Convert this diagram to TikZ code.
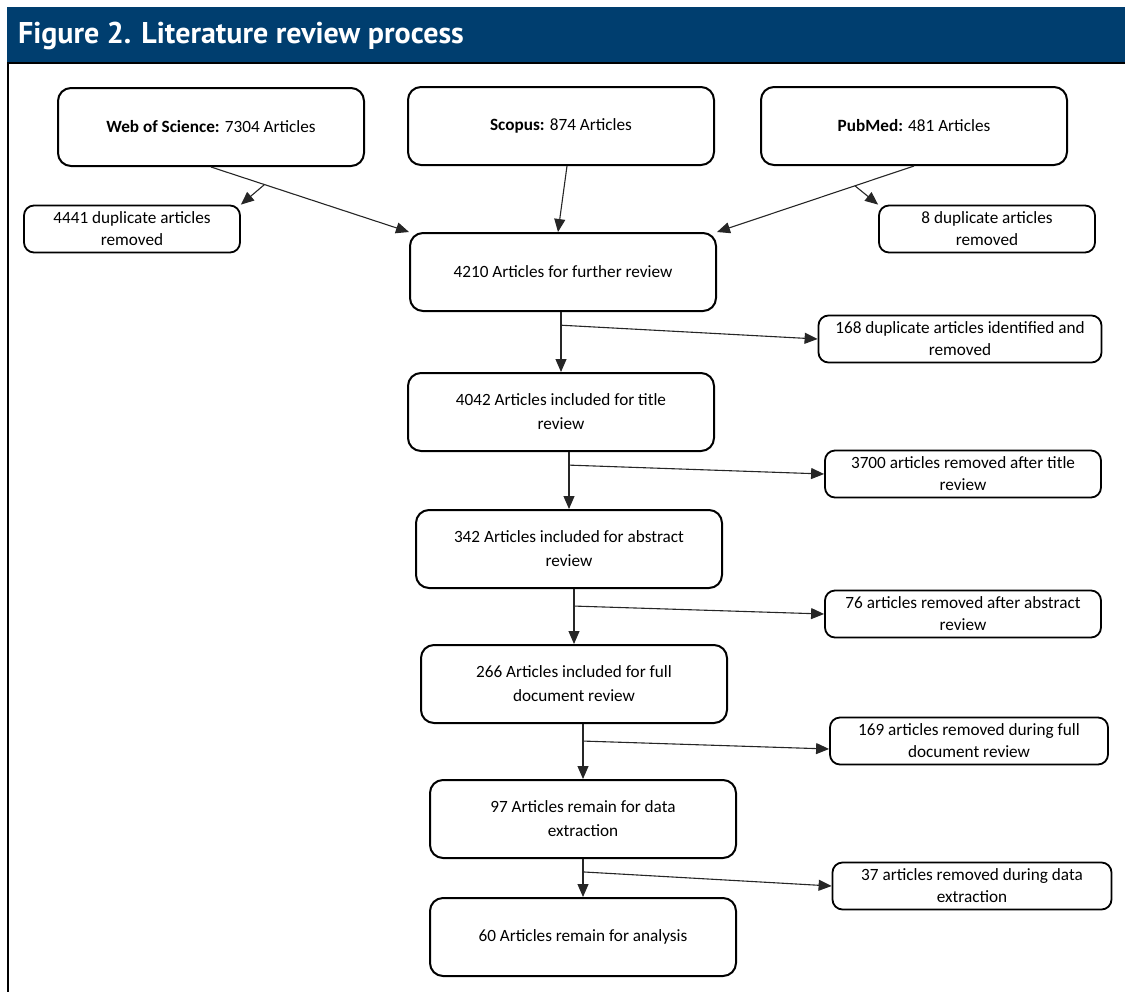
\documentclass[tikz,border=0pt]{standalone}
\usepackage{fontspec}
\setmainfont{Carlito}
\newfontfamily\titlefont{PT Sans}
\usetikzlibrary{calc}
\usetikzlibrary{arrows.meta}
\definecolor{barblue}{RGB}{0,62,111}

\begin{document}
\begin{tikzpicture}[x=0.5pt, y=-0.5pt,
        stagebox/.style={draw, line width=1pt, rounded corners=6.5pt, align=center,
            minimum width=153pt, minimum height=39pt, inner sep=2pt,
            font=\fontsize{8.6pt}{12pt}\selectfont},
        dropbox/.style={draw, line width=0.9pt, rounded corners=5pt, align=center,
            minimum height=23.5pt, inner sep=1pt,
            font=\fontsize{8.6pt}{11pt}\selectfont},
        flow/.style={line width=0.55pt, draw=black!85, -{Triangle[length=6.5pt,width=5.5pt]}}]
        \useasboundingbox (0,0) rectangle (1125,992);
        \coordinate (origin) at (0, 0);

        % title bar and frame
        \fill [barblue] ($(origin) + (7,7)$) rectangle ($(origin) + (1125,63)$);
        \draw [line width=1.2pt] ($(origin) + (7,63)$) -- +(1118,0);
        \draw [line width=1.2pt] ($(origin) + (8,63)$) -- +(0,929);
        \node (figtitle) [anchor=west, text=white, font=\titlefont\bfseries\fontsize{15pt}{18pt}\selectfont]
            at ($(origin) + (11,36)$) {Figure 2. Literature review process};

        % databases
        \node (wos) [stagebox] at ($(origin) + (211,127)$) {\textbf{Web of Science:} 7304 Articles};
        \node (scopus) [stagebox] at ($(origin) + (561,126)$) {\textbf{Scopus:} 874 Articles};
        \node (pubmed) [stagebox] at ($(origin) + (914,126)$) {\textbf{PubMed:} 481 Articles};

        \node (dupwos) [dropbox, minimum width=108pt] at ($(origin) + (132,229)$) {4441 duplicate articles\\removed};
        \node (duppub) [dropbox, minimum width=108pt] at ($(origin) + (987,229)$) {8 duplicate articles\\removed};

        % review stages
        \node (further) [stagebox] at ($(origin) + (563,272)$) {4210 Articles for further review};
        \node (titlerev) [stagebox] at ($(origin) + (561,412)$) {4042 Articles included for title\\review};
        \node (abstractrev) [stagebox] at ($(origin) + (569,549)$) {342 Articles included for abstract\\review};
        \node (fullrev) [stagebox] at ($(origin) + (574,684)$) {266 Articles included for full\\document review};
        \node (extraction) [stagebox] at ($(origin) + (583,819)$) {97 Articles remain for data\\extraction};
        \node (analysis) [stagebox] at ($(origin) + (583,937)$) {60 Articles remain for analysis};

        % removals
        \node (dupid) [dropbox, minimum width=141.5pt] at ($(origin) + (960,339)$) {168 duplicate articles identified and\\removed};
        \node (rmtitle) [dropbox, minimum width=138pt] at ($(origin) + (963,474)$) {3700 articles removed after title\\review};
        \node (rmabstract) [dropbox, minimum width=138pt] at ($(origin) + (963,614)$) {76 articles removed after abstract\\review};
        \node (rmfull) [dropbox, minimum width=139pt] at ($(origin) + (969,741)$) {169 articles removed during full\\document review};
        \node (rmextract) [dropbox, minimum width=139.5pt] at ($(origin) + (972,886)$) {37 articles removed during data\\extraction};

        % database arrows
        \draw [flow] (wos.south) -- (further.north west);
        \coordinate (wossplit) at ($(wos.south)!0.27!(further.north west)$);
        \draw [flow] (wossplit) -- (dupwos.north east);
        \draw [flow] ($(scopus.south) + (6,0)$) -- ($(further.north) + (-5,0)$);
        \draw [flow] (pubmed.south) -- (further.north east);
        \coordinate (pubsplit) at ($(pubmed.south)!0.3!(further.north east)$);
        \draw [flow] (pubsplit) -- (duppub.north west);

        % stage arrows
        \draw [flow] (further.south -| titlerev.north) -- (titlerev.north);
        \coordinate (split1) at ($(further.south -| titlerev.north)!0.22!(titlerev.north)$);
        \draw [flow] (split1) -- (dupid.west);

        \draw [flow] (titlerev.south -| abstractrev.north) -- (abstractrev.north);
        \coordinate (split2) at ($(titlerev.south -| abstractrev.north)!0.23!(abstractrev.north)$);
        \draw [flow] (split2) -- (rmtitle.west);

        \draw [flow] (abstractrev.south -| fullrev.north) -- (fullrev.north);
        \coordinate (split3) at ($(abstractrev.south -| fullrev.north)!0.31!(fullrev.north)$);
        \draw [flow] (split3) -- (rmabstract.west);

        \draw [flow] (fullrev.south -| extraction.north) -- (extraction.north);
        \coordinate (split4) at ($(fullrev.south -| extraction.north)!0.31!(extraction.north)$);
        \draw [flow] (split4) -- ($(rmfull.west) + (0,8)$);

        \draw [flow] (extraction.south -| analysis.north) -- (analysis.north);
        \coordinate (split5) at ($(extraction.south -| analysis.north)!0.34!(analysis.north)$);
        \draw [flow] (split5) -- (rmextract.west);
      \end{tikzpicture}
\end{document}
